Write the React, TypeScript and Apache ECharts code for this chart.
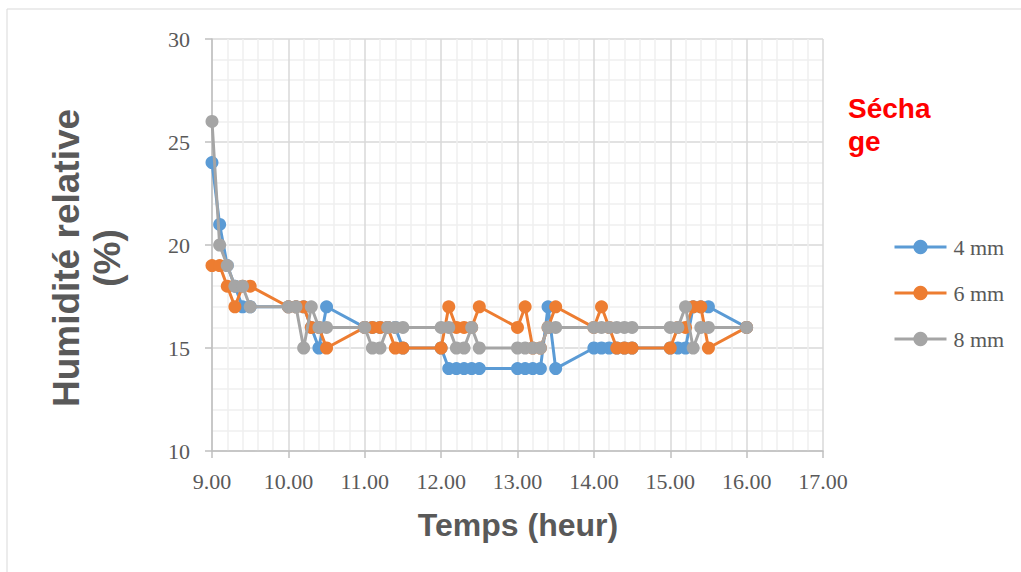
import React, { useEffect, useRef } from "react";
import * as echarts from "echarts";

const times = [
  9.0, 9.1, 9.2, 9.3, 9.4, 9.5,
  10.0, 10.1, 10.2, 10.3, 10.4, 10.5,
  11.0, 11.1, 11.2, 11.3, 11.4, 11.5,
  12.0, 12.1, 12.2, 12.3, 12.4, 12.5,
  13.0, 13.1, 13.2, 13.3, 13.4, 13.5,
  14.0, 14.1, 14.2, 14.3, 14.4, 14.5,
  15.0, 15.1, 15.2, 15.3, 15.4, 15.5,
  16.0,
];

const mm4 = [
  24, 21, 19, 18, 17, 17,
  17, 17, 17, 16, 15, 17,
  16, 16, 16, 16, 16, 15,
  15, 14, 14, 14, 14, 14,
  14, 14, 14, 14, 17, 14,
  15, 15, 15, 15, 15, 15,
  15, 15, 15, 17, 17, 17,
  16,
];

const mm6 = [
  19, 19, 18, 17, 18, 18,
  17, 17, 17, 16, 16, 15,
  16, 16, 16, 16, 15, 15,
  15, 17, 16, 16, 16, 17,
  16, 17, 15, 15, 16, 17,
  16, 17, 16, 15, 15, 15,
  15, 16, 16, 17, 17, 15,
  16,
];

const mm8 = [
  26, 20, 19, 18, 18, 17,
  17, 17, 15, 17, 16, 16,
  16, 15, 15, 16, 16, 16,
  16, 16, 15, 15, 16, 15,
  15, 15, 15, 15, 16, 16,
  16, 16, 16, 16, 16, 16,
  16, 16, 17, 15, 16, 16,
  16,
];

const seriesNames = ["4 mm", "6 mm", "8 mm"];
const seriesColors = ["#5b9bd5", "#ed7d31", "#a5a5a5"];
const seriesValues = [mm4, mm6, mm8];

const serif = "'Liberation Serif', 'DejaVu Serif', serif";
const sans = "'Liberation Sans', Arial, sans-serif";

export default function App() {
  const ref = useRef<HTMLDivElement>(null);

  useEffect(() => {
    document.body.style.margin = "0";
    if (!ref.current) return;
    const chart = echarts.init(ref.current, undefined, { renderer: "svg" });
    chart.setOption({
      animation: false,
      backgroundColor: "#ffffff",
      grid: { left: 212, right: 198, top: 39, bottom: 121, containLabel: false },
      xAxis: {
        type: "value",
        min: 9,
        max: 17,
        interval: 1,
        axisLine: { show: true, lineStyle: { color: "#bfbfbf", width: 1.5 } },
        axisTick: { show: true, length: 7, lineStyle: { color: "#bfbfbf", width: 1.5 } },
        axisLabel: {
          color: "#595959",
          fontFamily: serif,
          fontSize: 22,
          margin: 19,
          formatter: (v: number) => v.toFixed(2),
        },
        splitLine: { show: true, lineStyle: { color: "#d9d9d9", width: 1.5 } },
        minorTick: { show: false, splitNumber: 5 },
        minorSplitLine: { show: true, lineStyle: { color: "#efefef", width: 1.5 } },
      },
      yAxis: {
        type: "value",
        min: 10,
        max: 30,
        interval: 5,
        axisLine: { show: true, lineStyle: { color: "#bfbfbf", width: 1.5 } },
        axisTick: { show: true, length: 7, lineStyle: { color: "#bfbfbf", width: 1.5 } },
        axisLabel: {
          color: "#595959",
          fontFamily: serif,
          fontSize: 22,
          margin: 22,
        },
        splitLine: { show: true, lineStyle: { color: "#d9d9d9", width: 1.5 } },
        minorTick: { show: false, splitNumber: 5 },
        minorSplitLine: { show: true, lineStyle: { color: "#efefef", width: 1.5 } },
      },
      legend: {
        orient: "vertical",
        left: 893,
        top: 236,
        padding: 0,
        itemWidth: 52,
        itemHeight: 18,
        itemGap: 24,
        lineStyle: { width: 3 },
        textStyle: { color: "#595959", fontFamily: serif, fontSize: 22, lineHeight: 22, padding: [0, 0, 0, 2] },
        data: seriesNames,
      },
      series: seriesNames.map((name, i) => ({
        name,
        type: "line",
        data: times.map((t, j) => [t, seriesValues[i][j]]),
        symbol: "circle",
        symbolSize: 13,
        lineStyle: { color: seriesColors[i], width: 3 },
        itemStyle: { color: seriesColors[i] },
        z: 2 + i,
      })),
      graphic: [
        {
          type: "rect",
          silent: true,
          shape: { x: 7, y: 9, width: 1100, height: 700 },
          style: { fill: "none", stroke: "#d9d9d9", lineWidth: 1 },
          z: 100,
        },
        {
          type: "text",
          x: 87,
          y: 258,
          rotation: Math.PI / 2,
          style: {
            text: "Humidité relative\n(%)",
            fontFamily: sans,
            fontWeight: "bold",
            fontSize: 37,
            lineHeight: 41,
            fill: "#595959",
            textAlign: "center",
            textVerticalAlign: "middle",
          },
        },
        {
          type: "text",
          x: 518,
          y: 525,
          style: {
            text: "Temps (heur)",
            fontFamily: sans,
            fontWeight: "bold",
            fontSize: 32,
            fill: "#595959",
            textAlign: "center",
            textVerticalAlign: "middle",
          },
        },
        {
          type: "text",
          x: 848,
          y: 92,
          style: {
            text: "Sécha\nge",
            fontFamily: sans,
            fontWeight: "bold",
            fontSize: 28,
            lineHeight: 33,
            fill: "#ff0000",
            textAlign: "left",
            textVerticalAlign: "top",
          },
        },
      ],
    });
    return () => chart.dispose();
  }, []);

  return <div ref={ref} style={{ width: 1021, height: 572 }} />;
}
